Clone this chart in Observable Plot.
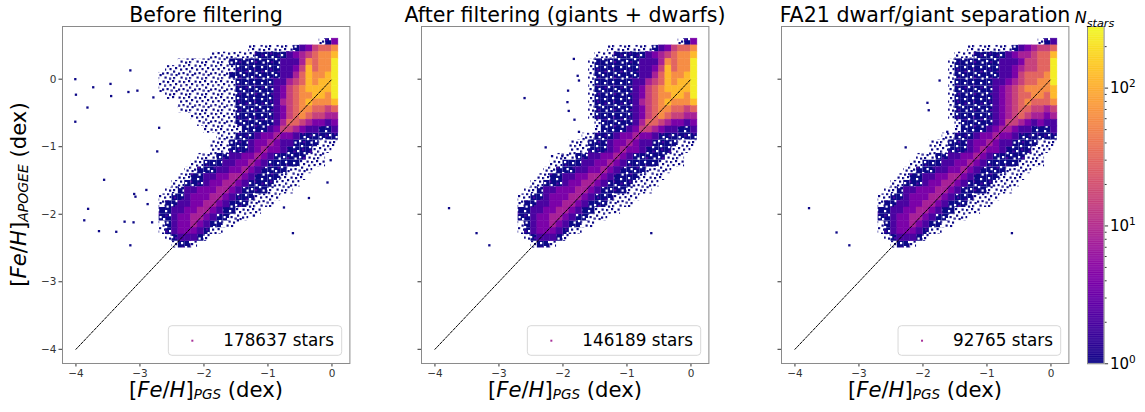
<!DOCTYPE html>
<html>
<head>
<meta charset="utf-8">
<script src="https://cdn.jsdelivr.net/npm/d3@7"></script>
<script src="https://cdn.jsdelivr.net/npm/@observablehq/plot@0.6"></script>
<style>
html,body{margin:0;padding:0;background:#fff;}
#fig{position:relative;width:1145px;height:412px;overflow:hidden;font-family:"DejaVu Sans",sans-serif;}
#fig svg{position:absolute;top:0;overflow:visible;}
#fig text{white-space:pre;}
</style>
</head>
<body>
<div id="fig">
<svg width="0" height="0" style="position:absolute;left:0;top:0">
  <defs>
    <pattern id="speckle" patternUnits="userSpaceOnUse" width="16" height="16">
      <g fill="#0d0887">
        <rect x="0.5" y="0.5" width="2.2" height="2.2"/>
        <rect x="5" y="1" width="2.2" height="2.2"/>
        <rect x="10" y="0" width="2.2" height="2.2"/>
        <rect x="13" y="3" width="2.2" height="2.2"/>
        <rect x="2" y="4.5" width="2.2" height="2.2"/>
        <rect x="7.5" y="4" width="2.2" height="2.2"/>
        <rect x="11" y="6.5" width="2.2" height="2.2"/>
        <rect x="0" y="8.5" width="2.2" height="2.2"/>
        <rect x="4.5" y="8" width="2.2" height="2.2"/>
        <rect x="8.5" y="9.5" width="2.2" height="2.2"/>
        <rect x="13.5" y="10" width="2.2" height="2.2"/>
        <rect x="2.5" y="12.5" width="2.2" height="2.2"/>
        <rect x="7" y="13.5" width="2.2" height="2.2"/>
        <rect x="11" y="13" width="2.2" height="2.2"/>
      </g>
    </pattern>
    <pattern id="blueCells" patternUnits="userSpaceOnUse" width="16" height="16">
      <rect x="0" y="0" width="16" height="16" fill="#0d0887"/>
      <g fill="#ffffff">
        <rect x="3" y="2" width="2.2" height="2.2"/>
        <rect x="11" y="1" width="2.2" height="2.2"/>
        <rect x="7" y="6" width="2.2" height="2.2"/>
        <rect x="13.5" y="8" width="2.2" height="2.2"/>
        <rect x="1" y="10" width="2.2" height="2.2"/>
        <rect x="9" y="12" width="2.2" height="2.2"/>
        <rect x="4.5" y="13.5" width="2.2" height="2.2"/>
      </g>
      <g fill="#4a03a0">
        <rect x="12" y="4.5" width="2.2" height="2.2"/>
        <rect x="3.5" y="6.5" width="2.2" height="2.2"/>
        <rect x="13" y="13" width="2.2" height="2.2"/>
      </g>
    </pattern>
  </defs>
</svg>
</div>
<script>
// ---------------- data ----------------
const panelTitles = ["Before filtering", "After filtering (giants + dwarfs)", "FA21 dwarf/giant separation"];
const starLabels = ["178637 stars", "146189 stars", "92765 stars"];
const xTicks = [-4, -3, -2, -1, 0];
const xTickLabels = ["−4", "−3", "−2", "−1", "0"];
const yTicks = [-4, -3, -2, -1, 0];
const yTickLabels = ["−4", "−3", "−2", "−1", "0"];
const cbarTicks = [1, 10, 100];
const cbarExponents = ["0", "1", "2"];
const cbarMinorTicks = [2, 3, 4, 5, 6, 7, 8, 9, 20, 30, 40, 50, 60, 70, 80, 90, 200];
const cbarRange = [1, 280];
const identityLine = [-4, 0];

// density maps: 0.1 dex cells, columns start at [Fe/H]_PGS = -2.7,
// rows start at [Fe/H]_APOGEE = 0.6 and go down. "." = a few stars, 1..9 = density level.
const gridX0 = -2.7, gridY0 = 0.6, gridStep = 0.1;
const levelCounts = {"1": 1, "2": 2, "3": 4, "4": 8, "5": 15, "6": 30, "7": 60, "8": 120, "9": 240};

// upper part (rows 0-14), one per panel
const beforeOffsets = [25, 14, 8, 3, 1, 0, 0, 0, 1, 3, 3, 5, 6, 7, 9];
const beforeRows = [
  ".13",
  ".......1235667",
  ".......1111123456778",
  "........11111111222476779",
  "...........1111111223586779",
  "...........11111111224687789",
  "............1111112245687889",
  "............1111112356788889",
  "...........1111112356778879",
  ".........1111112456787778",
  ".........1111112356776656",
  ".......1111112356765544",
  "......1111112466543323",
  "......111123554322112",
  "...1112334332111111"
];
const afterOffsets = [25, 14, 12, 11, 11, 11, 11, 11, 11, 11, 11, 11, 12, 12, 10];
const afterRows = [
  ".13",
  ".......1235667",
  "...1111123456778",
  ".1111111222476779",
  ".1111111223586779",
  ".1111111224687789",
  ".1111112245687889",
  ".1111112356788889",
  ".1111112356778879",
  ".1111112456787778",
  ".1111112356776656",
  ".1111112356765544",
  ".111112466543323",
  ".111123554322112",
  "..1112334332111111"
];
const fa21Offsets = [25, 14, 12, 11, 11, 11, 11, 11, 11, 11, 11, 11, 12, 12, 10];
const fa21Rows = [
  ".12",
  ".......1234556",
  "...1111123445668",
  ".1111111222355669",
  ".1111111223455669",
  ".1111111223566679",
  ".1111112234566779",
  ".1111112345677778",
  ".1111112345667768",
  ".1111112345676667",
  ".1111112345665545",
  ".1111112345654434",
  ".111112355432322",
  ".111123443221112",
  "..1112334332111111"
];
// lower metal-poor band (rows 15-30), common to the three panels
const bandOffsets = [8, 8, 6, 5, 4, 3, 2, 1, 0, 0, 0, 0, 0, 0, 1, 2];
const bandRows = [
  "...11123343221111...",
  "...1112343321111...",
  "...11223343211111...",
  "..111223343211111....",
  "..11122334321111....",
  "..11223344321111....",
  "..11123344321111....",
  "..12233344321111....",
  "..1123334432111....",
  ".1122334432111....",
  "112233443211....",
  "11233443211...",
  ".123343211..",
  ".1233321..",
  ".12221.",
  ".11."
];

// isolated stars outside the dense map
const beforeOutliers = [
  [-4.01, 0.0], [-4.0, -0.23], [-4.01, -0.63], [-3.82, -0.42], [-3.73, -0.12], [-3.46, -0.07],
  [-3.45, -0.25], [-3.15, 0.13], [-3.18, -0.19], [-3.04, -0.17], [-3.56, -1.49], [-3.09, -1.70],
  [-3.07, -1.74], [-3.81, -1.92], [-3.87, -2.09], [-3.64, -2.25], [-3.24, -2.11], [-3.1, -2.12],
  [-3.37, -2.26], [-3.15, -2.46], [-2.9, -1.64], [-2.88, -1.85], [-2.81, -2.12], [-2.73, -1.07],
  [-0.61, -2.28], [-2.7, -0.72], [-2.79, -0.27], [-0.07, -1.53], [-0.36, -1.76], [-0.75, -1.9],
  [-1.22, -2.02], [-1.47, -2.09], [-0.02, -1.2]
];
const afterOutliers = [
  [-3.78, -1.91], [-3.35, -2.28], [-3.15, -2.46], [-2.6, -0.28], [-2.27, -1.01], [-1.83, 0.30],
  [-1.77, 0.05], [-1.75, -0.02], [-1.92, -0.17], [-1.93, -0.34], [-1.91, -0.47], [-1.82, -0.6],
  [-1.75, -0.78], [-0.62, -2.28], [-2.17, -1.14], [-2.01, -1.14], [-1.44, 0.26], [-1.15, 0.36]
];
const fa21Outliers = [
  [-3.78, -1.91], [-3.35, -2.27], [-3.15, -2.46], [-2.27, -1.01], [-1.74, -0.02], [-1.93, -0.35],
  [-1.91, -0.46], [-1.45, 0.26], [-1.15, 0.37], [-0.61, -2.28], [-1.62, -0.78]
];

// ---------------- layout ----------------
const frameLeft = [62.3, 421.3, 781.3];
const frameW = 287.4, frameTop = 26, frameBottom = 363;
const xDomain = [-4.21, 0.28], yDomain = [-4.21, 0.78];
const FONT = "DejaVu Sans";

function buildCells(offsets, rows, rowStart) {
  const out = [];
  rows.forEach((row, j) => {
    [...row].forEach((ch, i) => {
      if (ch === " ") return;
      const col = offsets[j] + i;
      const x1 = gridX0 + col * gridStep;
      const y2 = gridY0 - (rowStart + j) * gridStep;
      out.push({x1, x2: x1 + gridStep, y1: y2 - gridStep, y2, n: ch === "." ? 1 : levelCounts[ch], kind: ch});
    });
  });
  return out;
}

const panels = [
  {offsets: beforeOffsets, rows: beforeRows, outliers: beforeOutliers},
  {offsets: afterOffsets, rows: afterRows, outliers: afterOutliers},
  {offsets: fa21Offsets, rows: fa21Rows, outliers: fa21Outliers}
];
const fig = document.getElementById("fig");
const mL = 60, mR = 30;

panels.forEach((p, k) => {
  const cells = buildCells(p.offsets, p.rows, 0).concat(buildCells(bandOffsets, bandRows, p.rows.length));
  const svg = Plot.plot({
    width: mL + frameW + mR, height: 412,
    marginLeft: mL, marginRight: mR, marginTop: frameTop, marginBottom: 412 - frameBottom,
    x: {domain: xDomain},
    y: {domain: yDomain},
    color: {type: "log", scheme: "plasma", domain: cbarRange},
    style: {fontFamily: FONT, fontSize: "10.5px", background: "transparent", overflow: "visible"},
    marks: [
      Plot.rect(cells.filter(d => d.kind === "."), {x1: "x1", x2: "x2", y1: "y1", y2: "y2", fill: "url(#speckle)"}),
      Plot.rect(cells.filter(d => d.kind === "1"), {x1: "x1", x2: "x2", y1: "y1", y2: "y2", fill: "url(#blueCells)"}),
      Plot.rect(cells.filter(d => d.kind !== "." && d.kind !== "1"), {x1: "x1", x2: "x2", y1: "y1", y2: "y2", fill: "n", stroke: "n", strokeWidth: 0.5}),
      Plot.dot(p.outliers, {x: d => d[0], y: d => d[1], r: 1.3, symbol: "square", fill: "#0d0887"}),
      Plot.line(identityLine, {x: d => d, y: d => d, stroke: "#000", strokeWidth: 1, strokeDasharray: "2.4,1.4"}),
      Plot.axisX({ticks: xTicks, tickFormat: d => xTickLabels[xTicks.indexOf(d)], tickSize: 3.5, tickPadding: 2.5, label: null, stroke: "#333", fill: "#333"}),
      Plot.axisY({ticks: yTicks, tickFormat: k === 0 ? (d => yTickLabels[yTicks.indexOf(d)]) : (() => ""), tickSize: 3.5, tickPadding: 2.5, label: null, stroke: "#333", fill: "#333"}),
      Plot.frame({stroke: "#8a8a8a", strokeWidth: 1})
    ]
  });
  svg.style.left = (frameLeft[k] - mL) + "px";
  fig.appendChild(svg);
});

// ---------------- colour bar ----------------
const cbLeft = 1086.7, cbW = 16.6, cbBottom = 363.3;
const rampStep = 0.005;
const ramp = d3.range(0, Math.log10(cbarRange[1]), rampStep);
const cb = Plot.plot({
  width: 10 + cbW + 40, height: 412,
  marginLeft: 10, marginRight: 40, marginTop: frameTop, marginBottom: 412 - cbBottom,
  x: {domain: [0, 1], axis: null},
  y: {type: "log", domain: cbarRange},
  color: {type: "log", scheme: "plasma", domain: cbarRange},
  style: {fontFamily: FONT, background: "transparent", overflow: "visible"},
  marks: [
    Plot.rect(ramp, {x1: 0, x2: 1, y1: a => Math.pow(10, a), y2: a => Math.pow(10, Math.min(a + rampStep * 1.5, Math.log10(cbarRange[1]))), fill: a => Math.pow(10, a + rampStep / 2)}),
    Plot.axisY({ticks: cbarMinorTicks, anchor: "right", tickSize: 2, tickFormat: () => "", label: null, stroke: "#333"}),
    Plot.axisY({ticks: cbarTicks, anchor: "right", tickSize: 3.5, tickFormat: () => "", label: null, stroke: "#333"}),
    Plot.frame({stroke: "#8a8a8a", strokeWidth: 1})
  ]
});
cb.style.left = (cbLeft - 10) + "px";
fig.appendChild(cb);

// ---------------- text overlay ----------------
const ov = d3.select(fig).append("svg").attr("width", 1145).attr("height", 412).style("left", "0px")
  .attr("font-family", FONT);

function rich(x, y, fs, parts, anchor, rotate, subScale, subShift) {
  const t = ov.append("text").attr("x", x).attr("y", y).attr("font-size", fs)
    .attr("text-anchor", anchor || "middle").attr("fill", "#000");
  if (rotate) t.attr("transform", `rotate(-90 ${x} ${y})`);
  let shift = 0;
  for (const [s, kind] of parts) {
    const ts = t.append("tspan").text(s);
    let target = 0, size = fs;
    if (kind.includes("sub")) { target = fs * (subShift || 0.27); size = fs * (subScale || 0.7); }
    if (kind.includes("sup")) { target = -fs * 0.42; size = fs * 0.7; }
    if (kind.includes("it")) ts.attr("font-style", "italic");
    ts.attr("font-size", size);
    if (target !== shift) { ts.attr("dy", target - shift); shift = target; }
  }
  return t;
}

const TITLE_FS = 20.6, LABEL_FS = 21.2;
const pgsLabel = [["[", ""], ["Fe", "it"], ["/", ""], ["H", "it"], ["]", ""], ["PGS", "sub it"], [" (dex)", ""]];
const apogeeLabel = [["[", ""], ["Fe", "it"], ["/", ""], ["H", "it"], ["]", ""], ["APOGEE", "sub it"], [" (dex)", ""]];
frameLeft.forEach((fl, k) => {
  const cx = fl + frameW / 2;
  const fr = fl + frameW;
  rich(cx, 21.5, TITLE_FS, [[panelTitles[k], ""]]);
  rich(cx, 396.5, LABEL_FS, pgsLabel, "middle", false, 0.64, 0.12);
  // legend
  const g = ov.append("g");
  const box = g.append("rect");
  const txt = g.append("text").attr("x", fr - 15.7).attr("y", 345.5).attr("font-size", 16.8)
    .attr("text-anchor", "end").attr("fill", "#000").text(starLabels[k]);
  const tw = txt.node().getComputedTextLength();
  const ts = fr - 15.7 - tw;
  box.attr("x", ts - 55).attr("y", 325.7).attr("width", (fr - 8) - (ts - 55)).attr("height", 29.6)
    .attr("rx", 3.5).attr("fill", "#fff").attr("fill-opacity", 0.8).attr("stroke", "#d8d8d8").attr("stroke-width", 1);
  g.append("rect").attr("x", ts - 32).attr("y", 339.7).attr("width", 2).attr("height", 2).attr("fill", "#a8329a");
});
// y label
rich(25.5, (frameTop + frameBottom) / 2, LABEL_FS, apogeeLabel, "middle", true, 0.66, 0.14);

// colour bar labels
const cy = cb.scale("y");
cbarTicks.forEach((v, i) => {
  rich(1110, cy.apply(v) + 5.5, 15, [["10", ""], [cbarExponents[i], "sup"]], "start");
});
rich(1094.5, 22.5, 16, [["N", "it"], ["stars", "sub it"]], "middle");
</script>
</body>
</html>
